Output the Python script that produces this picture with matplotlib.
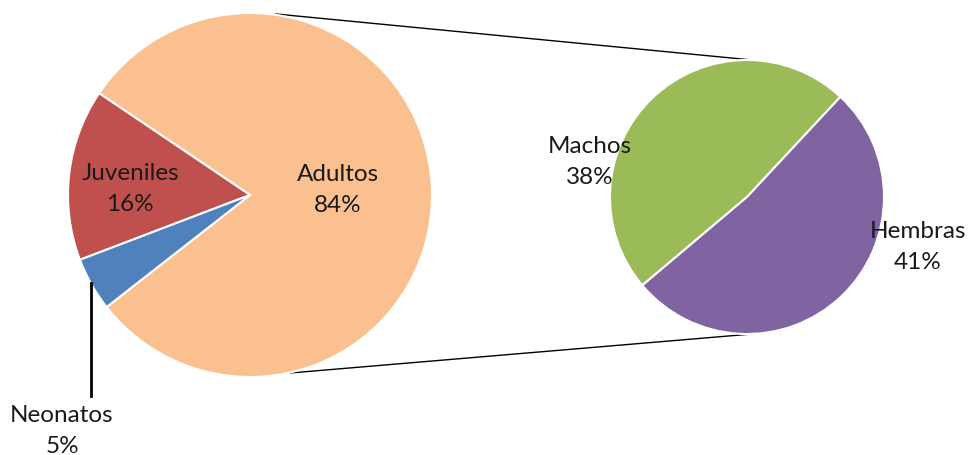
import matplotlib
matplotlib.use('Agg')
import matplotlib.pyplot as plt

# left pie
main_labels = ['Adultos', 'Juveniles', 'Neonatos']
main_values = [84, 16, 5]
main_colors = ['#FAC090', '#C0504D', '#4F81BD']

# right pie (adult breakdown)
sub_labels = ['Machos', 'Hembras']
sub_values = [38, 41]
sub_colors = ['#9BBB59', '#8064A2']

W, H = 968, 455
plt.rcParams['font.family'] = ['Lato', 'DejaVu Sans']

fig = plt.figure(figsize=(W / 100, H / 100), dpi=100)
ax = fig.add_axes([0, 0, 1, 1])

def py(y):
	return H - y

wp = dict(edgecolor='white', linewidth=1.5)

# connector lines first so the pies sit on top
ax.plot([276, 752], [py(14), py(60)], color='black', lw=1.0, zorder=1)
ax.plot([290, 752], [py(373), py(334)], color='black', lw=1.0, zorder=1)

ax.pie(main_values, colors=main_colors, startangle=-142, counterclock=True,
	center=(250, py(195)), radius=182, wedgeprops=wp, frame=True)
ax.pie(sub_values, colors=sub_colors, startangle=47, counterclock=True,
	center=(747, py(197)), radius=137, wedgeprops=wp, frame=True)

ax.set_xlim(0, W)
ax.set_ylim(0, H)
ax.set_aspect('equal')
ax.axis('off')

fs = 17.5
txt = '#1a1a1a'
labels = [
	(main_labels[0] + '\n84%', 338, 190),
	(main_labels[1] + '\n16%', 130, 189),
	(sub_labels[0] + '\n38%', 590, 162),
	(sub_labels[1] + '\n41%', 918, 247),
	(main_labels[2] + '\n5%', 62, 431),
]
for s, x, y in labels:
	ax.text(x, py(y), s, ha='center', va='center', fontsize=fs, color=txt,
		linespacing=1.55, zorder=5)

# leader line for Neonatos
ax.plot([91, 91], [py(283), py(396)], color='black', lw=2, zorder=4)

fig.savefig('out.png', dpi=100)
